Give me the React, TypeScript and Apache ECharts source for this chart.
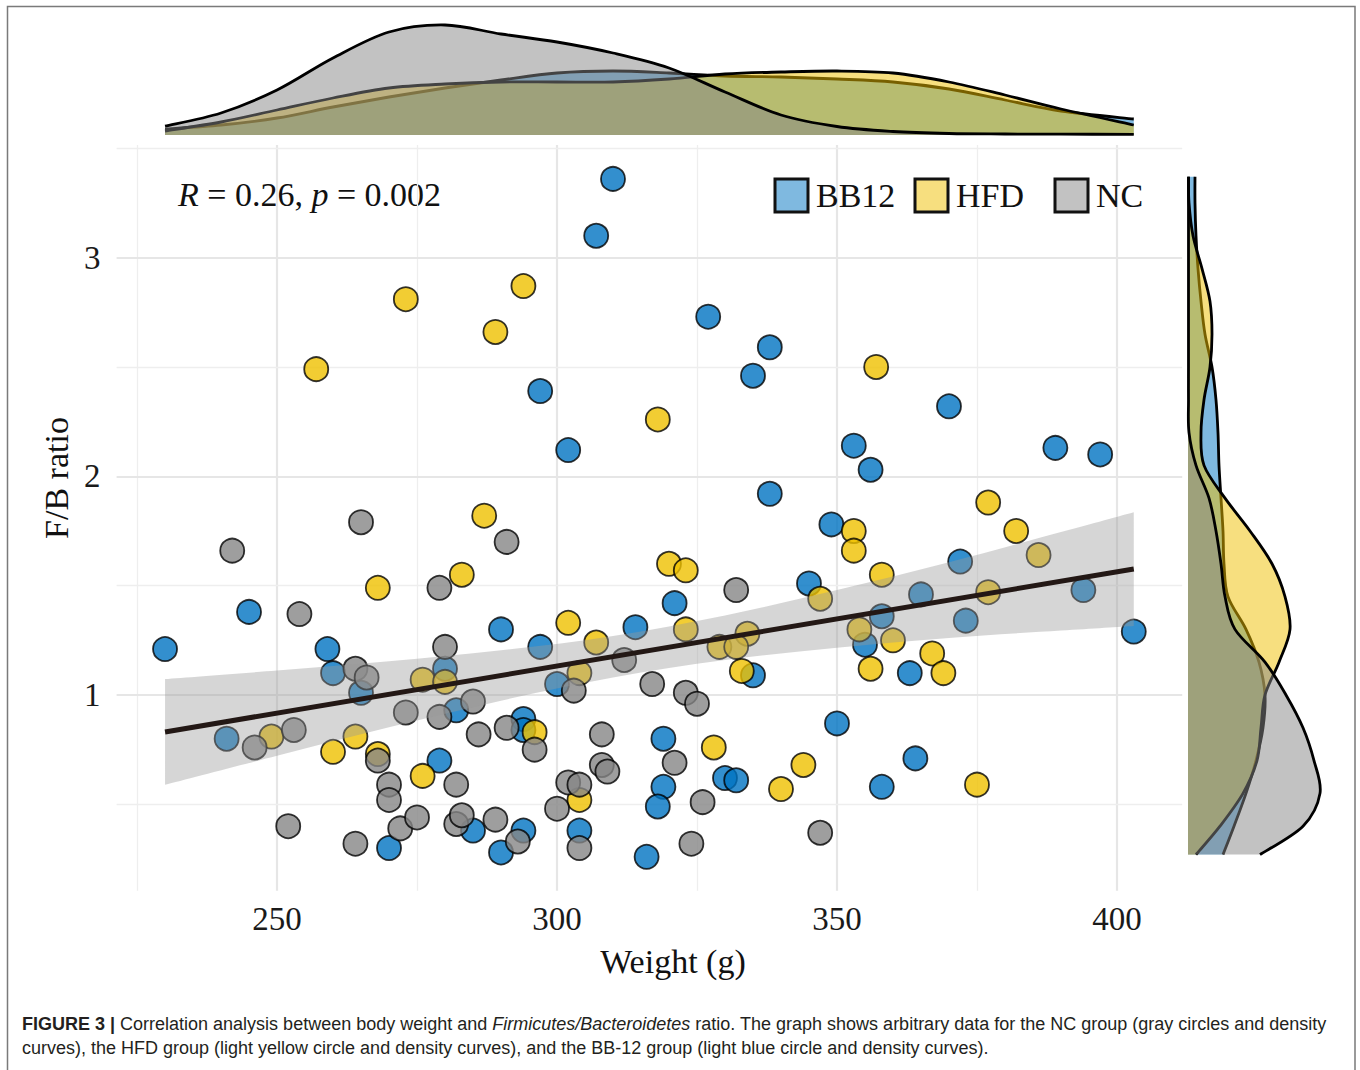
import React, { useEffect, useRef } from "react";
import * as echarts from "echarts";

// ---------- data ----------
const groups = ["BB12", "HFD", "NC"];
const pointColors = ["#0073C2", "#EFC000", "#868686"];
const densityFills = ["rgba(0,115,194,0.5)", "rgba(239,192,0,0.5)", "rgba(134,134,134,0.5)"];

const bb12Weight = [310, 307, 327, 338, 335, 297, 302, 353, 356, 338, 349, 370, 389, 397, 245, 230, 259, 260, 280, 265, 345, 321, 290, 297, 314, 300, 335, 372, 365, 394, 358, 355, 373, 403, 363, 241, 282, 279, 270, 285, 294, 294, 319, 330, 332, 319, 318, 294, 290, 304, 316, 350, 364, 358];
const bb12Ratio = [3.36, 3.10, 2.73, 2.59, 2.46, 2.39, 2.12, 2.14, 2.03, 1.92, 1.78, 2.32, 2.13, 2.10, 1.38, 1.21, 1.21, 1.10, 1.12, 1.01, 1.51, 1.42, 1.30, 1.22, 1.31, 1.05, 1.09, 1.61, 1.46, 1.48, 1.36, 1.23, 1.34, 1.29, 1.10, 0.80, 0.93, 0.70, 0.30, 0.38, 0.89, 0.84, 0.80, 0.62, 0.61, 0.58, 0.49, 0.38, 0.28, 0.38, 0.26, 0.87, 0.71, 0.58];

const hfdWeight = [273, 289, 294, 257, 287, 357, 318, 377, 268, 283, 276, 280, 320, 323, 302, 307, 323, 334, 329, 332, 304, 333, 353, 353, 382, 386, 347, 358, 377, 354, 360, 356, 367, 369, 249, 264, 260, 268, 276, 296, 328, 344, 304, 340, 375];
const hfdRatio = [2.81, 2.66, 2.87, 2.49, 1.82, 2.50, 2.26, 1.88, 1.49, 1.55, 1.07, 1.06, 1.60, 1.57, 1.33, 1.24, 1.30, 1.28, 1.22, 1.22, 1.10, 1.11, 1.75, 1.66, 1.75, 1.64, 1.44, 1.55, 1.47, 1.30, 1.25, 1.12, 1.19, 1.10, 0.81, 0.81, 0.74, 0.73, 0.63, 0.83, 0.76, 0.68, 0.52, 0.57, 0.59];

const ncWeight = [265, 242, 279, 254, 280, 264, 266, 285, 291, 332, 312, 303, 317, 323, 325, 246, 253, 268, 273, 279, 286, 270, 270, 282, 252, 264, 272, 275, 282, 283, 291, 296, 308, 308, 309, 321, 302, 304, 300, 326, 289, 293, 304, 324, 347];
const ncRatio = [1.79, 1.66, 1.49, 1.37, 1.22, 1.12, 1.08, 0.97, 1.70, 1.48, 1.16, 1.02, 1.05, 1.01, 0.96, 0.76, 0.84, 0.70, 0.92, 0.90, 0.82, 0.59, 0.52, 0.59, 0.40, 0.32, 0.39, 0.44, 0.41, 0.45, 0.85, 0.75, 0.82, 0.68, 0.65, 0.69, 0.60, 0.59, 0.48, 0.51, 0.43, 0.33, 0.30, 0.32, 0.37];

// linear fit and its 95% confidence band
const fitWeight = [230, 403];
const fitRatio = [0.831, 1.576];
const bandWeight = [230, 250, 270, 290, 310, 330, 350, 370, 390, 403];
const bandLower = [0.589, 0.722, 0.852, 0.974, 1.080, 1.160, 1.216, 1.261, 1.295, 1.316];
const bandUpper = [1.073, 1.112, 1.154, 1.204, 1.270, 1.364, 1.480, 1.607, 1.745, 1.836];

// marginal density of weight (top)
const topWeight = [230, 240, 250, 260, 270, 280, 290, 300, 310, 320, 330, 340, 350, 360, 370, 380, 390, 403];
const topBB12 = [0.06, 0.10, 0.17, 0.28, 0.38, 0.47, 0.55, 0.62, 0.64, 0.62, 0.59, 0.58, 0.56, 0.53, 0.46, 0.35, 0.24, 0.16];
const topHFD = [0.04, 0.13, 0.25, 0.37, 0.47, 0.51, 0.53, 0.53, 0.53, 0.56, 0.61, 0.63, 0.64, 0.62, 0.53, 0.40, 0.26, 0.10];
const topNC = [0.09, 0.22, 0.45, 0.77, 1.03, 1.10, 1.01, 0.93, 0.82, 0.67, 0.43, 0.20, 0.085, 0.035, 0.015, 0.01, 0.008, 0.007];

// marginal density of F/B ratio (right)
const sideRatio = [0.27, 0.4, 0.55, 0.7, 0.85, 1.0, 1.15, 1.3, 1.45, 1.6, 1.75, 1.9, 2.05, 2.2, 2.35, 2.5, 2.65, 2.8, 2.95, 3.1, 3.25, 3.37];
const sideBB12 = [0.35, 0.46, 0.58, 0.68, 0.75, 0.77, 0.71, 0.58, 0.40, 0.36, 0.35, 0.33, 0.31, 0.30, 0.28, 0.24, 0.17, 0.13, 0.10, 0.08, 0.07, 0.07];
const sideHFD = [0.08, 0.32, 0.55, 0.69, 0.73, 0.77, 0.91, 1.02, 0.97, 0.84, 0.62, 0.37, 0.16, 0.13, 0.16, 0.22, 0.24, 0.22, 0.14, 0.05, 0.01, 0.005];
const sideNC = [0.72, 1.15, 1.32, 1.26, 1.15, 0.98, 0.77, 0.47, 0.37, 0.33, 0.28, 0.21, 0.08, 0.01, 0.005, 0.005, 0.005, 0.005, 0.005, 0.005, 0.005, 0.005];

const xMajor = [250, 300, 350, 400];
const xMinor = [225, 275, 325, 375];
const yMajor = [1, 2, 3];
const yMinor = [0.5, 1.5, 2.5, 3.5];

const xTitle = "Weight (g)";
const yTitle = "F/B ratio";
const statText = "{i|R} = 0.26, {i|p} = 0.002";
const captionLine1 =
  "{b|FIGURE 3 |} Correlation analysis between body weight and {i|Firmicutes/Bacteroidetes} ratio. The graph shows arbitrary data for the NC group (gray circles and density";
const captionLine2 =
  "curves), the HFD group (light yellow circle and density curves), and the BB-12 group (light blue circle and density curves).";

// ---------- helpers ----------
const SERIF = "'Liberation Serif', 'DejaVu Serif', serif";
const SANS = "'Liberation Sans', Arial, sans-serif";

function smoothSegments(pts: number[][]): string {
  let d = "";
  for (let i = 0; i < pts.length - 1; i++) {
    const p0 = pts[i - 1] || pts[i];
    const p1 = pts[i];
    const p2 = pts[i + 1];
    const p3 = pts[i + 2] || p2;
    const c1x = p1[0] + (p2[0] - p0[0]) / 6;
    const c1y = p1[1] + (p2[1] - p0[1]) / 6;
    const c2x = p2[0] - (p3[0] - p1[0]) / 6;
    const c2y = p2[1] - (p3[1] - p1[1]) / 6;
    d += ` C${c1x},${c1y} ${c2x},${c2y} ${p2[0]},${p2[1]}`;
  }
  return d;
}

function densitySeries(name: string, pos: number[], dens: number[], fill: string, axisIndex: number, horizontal: boolean) {
  const toVal = (i: number) => (horizontal ? [dens[i], pos[i]] : [pos[i], dens[i]]);
  return {
    type: "custom",
    name,
    xAxisIndex: axisIndex,
    yAxisIndex: axisIndex,
    silent: true,
    z: 2,
    data: pos.map((_, i) => toVal(i)),
    renderItem: (params: any, api: any) => {
      if (params.dataIndex !== 0) return null;
      const pts = pos.map((_, i) => api.coord(toVal(i)));
      const n = pos.length - 1;
      const b0 = api.coord(horizontal ? [0, pos[0]] : [pos[0], 0]);
      const b1 = api.coord(horizontal ? [0, pos[n]] : [pos[n], 0]);
      const curve = smoothSegments(pts);
      return {
        type: "group",
        children: [
          {
            type: "path",
            shape: { pathData: `M${b0[0]},${b0[1]} L${pts[0][0]},${pts[0][1]}${curve} L${b1[0]},${b1[1]} Z` },
            style: { fill, stroke: "none" },
          },
          {
            type: "path",
            shape: { pathData: `M${pts[0][0]},${pts[0][1]}${curve}` },
            style: { fill: "none", stroke: "#000", lineWidth: 2.8 },
          },
        ],
      };
    },
  };
}

function scatterSeries(name: string, w: number[], r: number[], color: string) {
  return {
    type: "scatter",
    name,
    xAxisIndex: 0,
    yAxisIndex: 0,
    z: 2,
    symbol: "circle",
    symbolSize: 24,
    data: w.map((x, i) => [x, r[i]]),
    itemStyle: { color, borderColor: "#000", borderWidth: 1.8, opacity: 0.8 },
    emphasis: { disabled: true },
  };
}

function buildOption() {
  const grid = [
    { left: 116.6, top: 145, width: 1065.6, height: 745.7 },
    { left: 116.6, top: 20, width: 1065.6, height: 115 },
    { left: 1188, top: 145, width: 150, height: 745.7 },
  ];
  const xRange = { min: 221.35, max: 411.65 };
  const yRange = { min: 0.105, max: 3.515 };

  const gridLineData = [
    ...xMajor.map((v) => ({ xAxis: v, lineStyle: { color: "#e6e6e6", width: 2.2, type: "solid" } })),
    ...xMinor.map((v) => ({ xAxis: v, lineStyle: { color: "#eeeeee", width: 1.3, type: "solid" } })),
    ...yMajor.map((v) => ({ yAxis: v, lineStyle: { color: "#e6e6e6", width: 2.2, type: "solid" } })),
    ...yMinor.map((v) => ({ yAxis: v, lineStyle: { color: "#eeeeee", width: 1.3, type: "solid" } })),
  ];

  const bandSeries = {
    type: "custom",
    name: "CI",
    xAxisIndex: 0,
    yAxisIndex: 0,
    silent: true,
    z: 3,
    data: bandWeight.map((w, i) => [w, bandLower[i], bandUpper[i]]),
    encode: { x: 0, y: [1, 2] },
    renderItem: (params: any, api: any) => {
      if (params.dataIndex !== 0) return null;
      const up = bandWeight.map((w, i) => api.coord([w, bandUpper[i]]));
      const lo = bandWeight.map((w, i) => api.coord([w, bandLower[i]])).reverse();
      const d = `M${up[0][0]},${up[0][1]}${smoothSegments(up)} L${lo[0][0]},${lo[0][1]}${smoothSegments(lo)} Z`;
      return { type: "path", shape: { pathData: d }, style: { fill: "rgba(153,153,153,0.4)", stroke: "none" } };
    },
  };

  const series: any[] = [
    {
      type: "line",
      name: "grid",
      xAxisIndex: 0,
      yAxisIndex: 0,
      data: [],
      silent: true,
      markLine: { silent: true, z: 1, symbol: ["none", "none"], label: { show: false }, data: gridLineData, animation: false },
    },
    scatterSeries(groups[0], bb12Weight, bb12Ratio, pointColors[0]),
    scatterSeries(groups[1], hfdWeight, hfdRatio, pointColors[1]),
    scatterSeries(groups[2], ncWeight, ncRatio, pointColors[2]),
    bandSeries,
    {
      type: "line",
      name: "fit",
      xAxisIndex: 0,
      yAxisIndex: 0,
      z: 4,
      silent: true,
      symbol: "none",
      data: fitWeight.map((w, i) => [w, fitRatio[i]]),
      lineStyle: { color: "#231815", width: 5 },
    },
    densitySeries("BB12 weight density", topWeight, topBB12, densityFills[0], 1, false),
    densitySeries("HFD weight density", topWeight, topHFD, densityFills[1], 1, false),
    densitySeries("NC weight density", topWeight, topNC, densityFills[2], 1, false),
    densitySeries("BB12 ratio density", sideRatio, sideBB12, densityFills[0], 2, true),
    densitySeries("HFD ratio density", sideRatio, sideHFD, densityFills[1], 2, true),
    densitySeries("NC ratio density", sideRatio, sideNC, densityFills[2], 2, true),
  ];

  const legendLefts = [768.5, 908.5, 1048.5];
  const legend = groups.map((g, i) => ({
    left: legendLefts[i],
    top: 172.5,
    orient: "horizontal",
    icon: "rect",
    itemWidth: 33,
    itemHeight: 33,
    selectedMode: false,
    data: [
      {
        name: g,
        icon: "rect",
        itemStyle: { color: densityFills[i], borderColor: "#111", borderWidth: 3, opacity: 1 },
      },
    ],
    textStyle: { fontSize: 34, fontFamily: SERIF, color: "#111", padding: [0, 0, 0, 3] },
  }));

  return {
    animation: false,
    backgroundColor: "#ffffff",
    grid,
    legend,
    xAxis: [
      {
        type: "value",
        gridIndex: 0,
        ...xRange,
        axisLine: { show: false },
        axisTick: { show: false },
        splitLine: { show: false },
        axisLabel: { customValues: xMajor, fontSize: 33, fontFamily: SERIF, color: "#1a1a1a", margin: 12 },
      },
      { type: "value", gridIndex: 1, ...xRange, show: false, splitLine: { show: false } },
      { type: "value", gridIndex: 2, min: 0, max: 1.5, show: false, splitLine: { show: false } },
    ],
    yAxis: [
      {
        type: "value",
        gridIndex: 0,
        ...yRange,
        axisLine: { show: false },
        axisTick: { show: false },
        splitLine: { show: false },
        axisLabel: { customValues: yMajor, fontSize: 33, fontFamily: SERIF, color: "#1a1a1a", margin: 16 },
      },
      { type: "value", gridIndex: 1, min: 0, max: 1.15, show: false, splitLine: { show: false } },
      { type: "value", gridIndex: 2, ...yRange, show: false, splitLine: { show: false } },
    ],
    series,
    graphic: [
      {
        type: "rect",
        silent: true,
        z: -1,
        shape: { x: 7.5, y: 6.5, width: 1347.5, height: 1100 },
        style: { fill: "none", stroke: "#7a7a7a", lineWidth: 1.5 },
      },
      {
        type: "text",
        silent: true,
        style: {
          x: 673,
          y: 961,
          text: xTitle,
          fontSize: 34,
          fontFamily: SERIF,
          fill: "#111",
          align: "center",
          verticalAlign: "middle",
        },
      },
      {
        type: "text",
        silent: true,
        x: 56,
        y: 478,
        rotation: Math.PI / 2,
        style: {
          x: 0,
          y: 0,
          text: yTitle,
          fontSize: 34,
          fontFamily: SERIF,
          fill: "#111",
          align: "center",
          verticalAlign: "middle",
        },
      },
      {
        type: "text",
        silent: true,
        style: {
          x: 178,
          y: 194,
          text: statText,
          fontSize: 34,
          fontFamily: SERIF,
          fill: "#111",
          verticalAlign: "middle",
          rich: {
            i: { fontStyle: "italic", fontSize: 34, fontFamily: SERIF, fill: "#111" },
          },
        },
      },
      {
        type: "text",
        silent: true,
        style: {
          x: 22,
          y: 1024,
          text: captionLine1,
          fontSize: 18,
          fontFamily: SANS,
          fill: "#231f20",
          verticalAlign: "middle",
          rich: {
            b: { fontWeight: "bold", fontSize: 18, fontFamily: SANS, fill: "#231f20" },
            i: { fontStyle: "italic", fontSize: 18, fontFamily: SANS, fill: "#231f20" },
          },
        },
      },
      {
        type: "text",
        silent: true,
        style: {
          x: 22,
          y: 1048,
          text: captionLine2,
          fontSize: 18,
          fontFamily: SANS,
          fill: "#231f20",
          verticalAlign: "middle",
        },
      },
    ],
  };
}

export default function App() {
  const ref = useRef<HTMLDivElement>(null);
  useEffect(() => {
    document.body.style.margin = "0";
    const chart = echarts.init(ref.current as HTMLDivElement, null, { renderer: "svg" });
    chart.setOption(buildOption() as any);
    return () => chart.dispose();
  }, []);
  return <div ref={ref} style={{ width: 1360, height: 1070 }} />;
}
